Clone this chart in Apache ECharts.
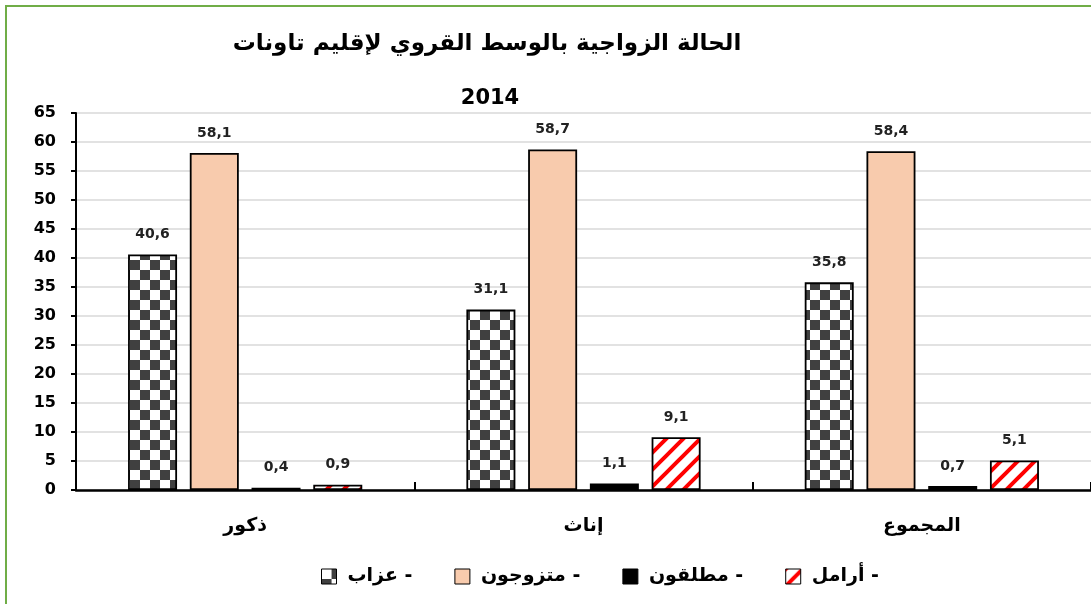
<!DOCTYPE html>
<html>
<head>
<meta charset="utf-8">
<script src="https://cdn.jsdelivr.net/npm/echarts@6/dist/echarts.min.js"></script>
<style>
html,body{margin:0;padding:0;background:#fff;}
#chart{width:1091px;height:604px;}
#frame{position:absolute;left:5px;top:5px;width:1100px;height:610px;border-left:2px solid #70ad47;border-top:2px solid #70ad47;pointer-events:none;}
</style>
</head>
<body>
<div id="chart"></div>
<div id="frame"></div>
<script>
// data
const categories=['ذكور','إناث','المجموع'];
const seriesNames=['عزاب','متزوجون','مطلقون','أرامل'];
const single=[40.6,31.1,35.8];
const married=[58.1,58.7,58.4];
const divorced=[0.4,1.1,0.7];
const widowed=[0.9,9.1,5.1];
const yTicks=[0,65,5];

function checker(){
 let c=document.createElement('canvas');c.width=20;c.height=20;
 let x=c.getContext('2d');
 x.fillStyle='#fff';x.fillRect(0,0,20,20);
 x.fillStyle='#404040';x.fillRect(10,0,10,10);x.fillRect(0,10,10,10);
 return c;
}
function stripes(){
 let s=17,c=document.createElement('canvas');c.width=s;c.height=s;
 let x=c.getContext('2d');
 x.fillStyle='#fff';x.fillRect(0,0,s,s);
 x.strokeStyle='#ff0000';x.lineWidth=4;
 x.beginPath();
 x.moveTo(-s/2,s/2);x.lineTo(s/2,-s/2);
 x.moveTo(0,s);x.lineTo(s,0);
 x.moveTo(s/2,s*1.5);x.lineTo(s*1.5,s/2);
 x.stroke();
 return c;
}
const fills=[{image:checker(),repeat:'repeat'},'#f8cbad','#000000',{image:stripes(),repeat:'repeat'}];
const values=[single,married,divorced,widowed];

var c=echarts.init(document.getElementById('chart'));
c.setOption({
 animation:false,
 title:[
  {text:'الحالة الزواجية بالوسط القروي لإقليم تاونات',left:482,top:28,textAlign:'center',
   textStyle:{fontFamily:'DejaVu Sans',fontWeight:'bold',fontSize:23,color:'#000'}},
  {text:'2014',left:485,top:83,textAlign:'center',
   textStyle:{fontFamily:'DejaVu Sans',fontWeight:'bold',fontSize:21,color:'#000'}}
 ],
 legend:{left:316,top:562,itemWidth:15,itemHeight:15,itemGap:42,icon:'rect',
  data:seriesNames,
  formatter:n=>n+' -',
  itemStyle:{borderColor:'#000',borderWidth:1},
  textStyle:{fontFamily:'DejaVu Sans',fontWeight:'bold',fontSize:19,color:'#000',padding:[0,0,0,6]}},
 grid:{left:76,top:113,width:1023,height:377},
 xAxis:{type:'category',data:categories,
  axisLine:{lineStyle:{color:'#000',width:2.5}},
  axisTick:{show:true,inside:true,length:8,lineStyle:{color:'#000',width:2}},
  axisLabel:{margin:27,fontFamily:'DejaVu Sans',fontWeight:'bold',fontSize:19,color:'#000'}},
 yAxis:{type:'value',min:yTicks[0],max:yTicks[1],interval:yTicks[2],
  axisLine:{show:true,lineStyle:{color:'#000',width:2}},
  axisTick:{show:true,length:5,lineStyle:{color:'#000',width:2}},
  splitLine:{lineStyle:{color:'#d9d9d9',width:1.5}},
  axisLabel:{margin:20,fontFamily:'DejaVu Sans',fontWeight:'bold',fontSize:16,color:'#000'}},
 series:seriesNames.map((n,i)=>({
  name:n,type:'bar',data:values[i],barWidth:49,barGap:'26%',
  itemStyle:{color:fills[i],borderColor:'#000',borderWidth:1.8},
  label:{show:true,position:'top',distance:13,
   formatter:p=>String(p.value).replace('.',','),
   fontFamily:'DejaVu Sans',fontWeight:'bold',fontSize:14,color:'#222'}
 }))
});
</script>
</body>
</html>
